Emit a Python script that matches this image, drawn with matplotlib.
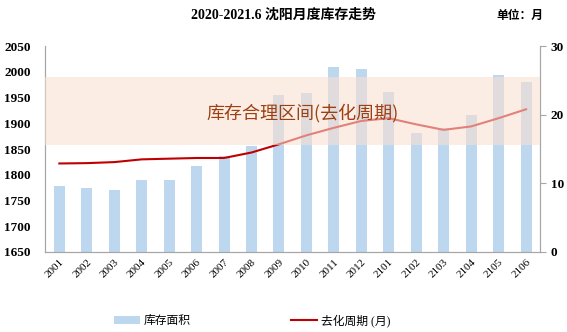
import numpy as np
import matplotlib
matplotlib.use("Agg")
import matplotlib.pyplot as plt

plt.rcParams["font.family"] = ["Liberation Serif", "Noto Sans CJK SC", "DejaVu Sans"]

months = ["2001", "2002", "2003", "2004", "2005", "2006", "2007", "2008", "2009",
          "2010", "2011", "2012", "2101", "2102", "2103", "2104", "2105", "2106"]
stock_area = [1778, 1775, 1771, 1790, 1790, 1817, 1837, 1855, 1955,
              1958, 2009, 2005, 1960, 1882, 1891, 1917, 1993, 1981]
cycle_months = [12.9, 12.95, 13.1, 13.5, 13.6, 13.7, 13.7, 14.5, 15.7,
                17.0, 18.1, 19.1, 19.5, 18.6, 17.8, 18.3, 19.5, 20.8]
band_low, band_high = 1858, 1990

x = np.arange(len(months))
grey = "#A6A6A6"

fig = plt.figure(figsize=(5.67, 3.32), dpi=100)
ax = fig.add_axes([0.079, 0.241, 0.873, 0.620])
ax2 = ax.twinx()

ax.bar(x, np.array(stock_area) - 1650, bottom=1650, width=0.4, color="#BDD7EE",
       label="库存面积", zorder=1)
line, = ax2.plot(x, cycle_months, color="#C00000", lw=1.5, label="去化周期 (月)", zorder=1)

ax.set_xlim(-0.53, len(months) - 0.5)
ax.set_ylim(1650, 2050)
ax.set_yticks(np.arange(1650, 2051, 50))
ax2.set_ylim(0, 30)
ax2.set_yticks([0, 10, 20, 30])

# shaded band drawn on top of bars and line
ax2.axhspan((band_low - 1650) / 400 * 30, (band_high - 1650) / 400 * 30,
            color="#FAE0D1", alpha=0.58, lw=0, zorder=3)
ax2.text(5.35, 20.3, "库存合理区间(去化周期)", color="#9C3F12", fontsize=13,
         family=["Noto Sans CJK SC"], va="center", ha="left", zorder=4)

ax.set_xticks(x)
ax.set_xticklabels(months, rotation=45, fontsize=8, ha="right", rotation_mode="anchor")
ax.tick_params(axis="x", length=0, pad=4)
ax.tick_params(axis="y", length=0, pad=10, labelsize=9.5)
for lab in ax.get_yticklabels():
    lab.set_fontweight("bold")
ax2.tick_params(axis="y", length=4, color=grey, labelsize=9.5, pad=4)
for lab in ax2.get_yticklabels():
    lab.set_fontweight("bold")

for a in (ax, ax2):
    a.spines["top"].set_visible(False)
    for s in ("left", "bottom", "right"):
        a.spines[s].set_color(grey)

fig.text(0.5, 0.955, "2020-2021.6 沈阳月度库存走势", ha="center", va="center",
         fontsize=10, fontweight="bold")
fig.text(0.958, 0.952, "单位：月", ha="right", va="center", fontsize=8.5,
         fontweight="bold")

handles = [ax.patches[0], line]
fig.legend(handles, ["库存面积", "去化周期 (月)"], loc="center", ncol=2,
           bbox_to_anchor=(0.445, 0.035), frameon=False, fontsize=8.5,
           columnspacing=8.5, handlelength=2.2, handletextpad=0.3)

fig.savefig("out.png", dpi=100)
